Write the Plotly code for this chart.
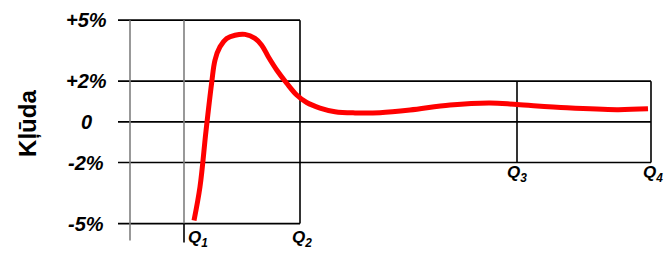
import plotly.graph_objects as go

# ---- data ----
tick_vals = [5, 2, 0, -2, -5]
tick_text = ["+5%", "+2%", "0", "-2%", "-5%"]
q_names = ["Q<sub>1</sub>", "Q<sub>2</sub>", "Q<sub>3</sub>", "Q<sub>4</sub>"]
q_pos = [5.4, 17.0, 38.7, 52.1]
axis_x = 0.0
curve_x = [6.4, 7.0, 7.6, 8.17, 8.5, 9.0, 9.67, 10.5, 11.5, 12.5, 13.17, 13.83, 14.67,
           15.67, 16.67, 17.67, 19.0, 20.5, 22.5, 25.0, 28.0, 32.0, 36.0, 38.7, 43.7,
           48.7, 51.8]
curve_y = [-4.85, -3.19, -0.45, 1.93, 3.04, 3.69, 4.10, 4.26, 4.30, 4.10, 3.77, 3.20, 2.55,
           1.90, 1.32, 0.95, 0.68, 0.50, 0.44, 0.45, 0.58, 0.83, 0.93, 0.85, 0.69,
           0.60, 0.64]

x_lo, x_hi = -1.2, 53.0
y_lo, y_hi = -6.2, 5.4

fig = go.Figure()
fig.add_trace(go.Scatter(x=curve_x, y=curve_y, mode="lines",
                         line=dict(color="#ff0000", width=5, shape="spline", smoothing=1.0),
                         hoverinfo="skip", showlegend=False))

BLACK = "#000000"
GREY = "#7f7f7f"
shapes = []
def seg(x0, y0, x1, y1, color=BLACK, w=1.6):
    shapes.append(dict(type="line", xref="x", yref="y", x0=x0, y0=y0, x1=x1, y1=y1,
                       line=dict(color=color, width=w), layer="below"))

# horizontal level lines
for v in tick_vals:
    if abs(v) == 5:
        seg(x_lo, v, q_pos[1], v)
    else:
        seg(x_lo, v, q_pos[3], v)
# verticals
seg(axis_x, tick_vals[0], axis_x, -5.83, GREY)
seg(q_pos[0], tick_vals[0], q_pos[0], tick_vals[-1], GREY)
seg(q_pos[0], tick_vals[-1], q_pos[0], -5.93, BLACK)
seg(q_pos[1], tick_vals[0], q_pos[1], tick_vals[-1], BLACK)
seg(q_pos[2], tick_vals[1], q_pos[2], tick_vals[3], BLACK)
seg(q_pos[3], tick_vals[1], q_pos[3], tick_vals[3], BLACK)

FAM = "Liberation Sans, Arial, sans-serif"
font_bi = dict(family=FAM, size=20, color="#000000", weight="bold", style="italic")
ann = []
for v, t in zip(tick_vals, tick_text):
    ann.append(dict(x=x_lo, y=v, xref="x", yref="y", text=t, showarrow=False,
                    xanchor="center", yanchor="middle", xshift=-32, font=font_bi))
# Q labels
q_y = [-5.75, -5.75, -2.55, -2.55]
q_shift = [14, 2, 0, 2]
for name, xp, yq, xs in zip(q_names, q_pos, q_y, q_shift):
    ann.append(dict(x=xp, y=yq, xref="x", yref="y", text=name, showarrow=False,
                    xanchor="center", yanchor="middle", xshift=xs,
                    font=dict(family=FAM, size=17, color="#000000",
                              weight="bold", style="italic")))
ann.append(dict(x=x_lo, y=-0.1, xref="x", yref="y", text="Kļūda", showarrow=False,
                textangle=-90, xanchor="center", yanchor="middle", xshift=-90,
                font=dict(family=FAM, size=24, color="#000000", weight="bold")))

fig.update_layout(
    width=665, height=255,
    margin=dict(l=118, r=5, t=12, b=7),
    paper_bgcolor="white", plot_bgcolor="white",
    xaxis=dict(range=[x_lo, x_hi], visible=False, fixedrange=True),
    yaxis=dict(range=[y_lo, y_hi], visible=False, fixedrange=True),
    shapes=shapes, annotations=ann, showlegend=False,
)
fig.write_html("out.html", config={"displayModeBar": False},
               post_script="document.body.style.margin='0';document.body.style.overflow='hidden';")
